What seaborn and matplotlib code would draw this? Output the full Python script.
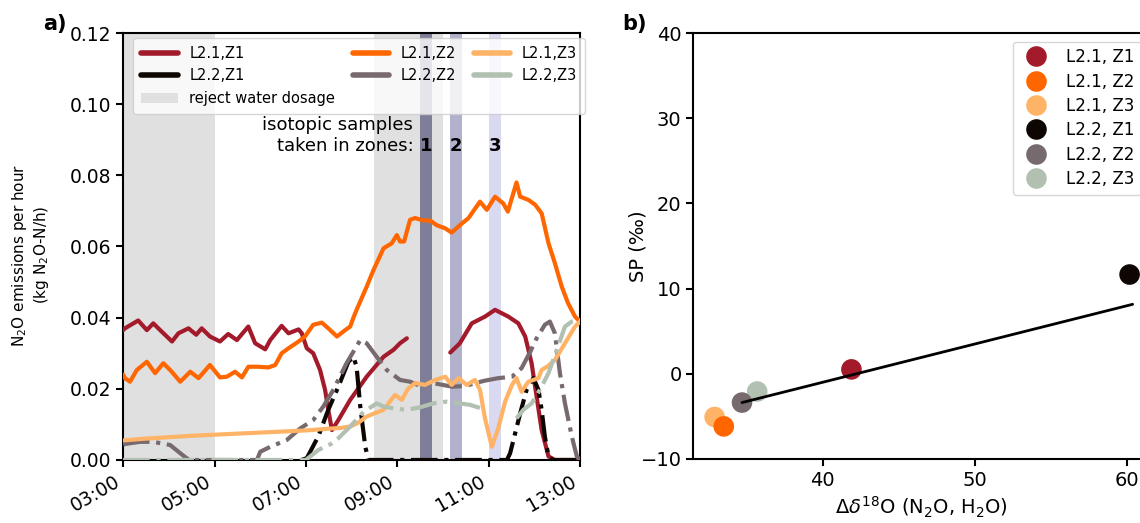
import numpy as np
import pandas as pd
import matplotlib
matplotlib.use("Agg")
import matplotlib.pyplot as plt
from matplotlib.lines import Line2D
from matplotlib.patches import Patch
from matplotlib.ticker import FuncFormatter
import seaborn as sns

sns.set_style("ticks")
plt.rcParams["font.family"] = ["DejaVu Sans"]
plt.rcParams["mathtext.fontset"] = "dejavusans"
plt.rcParams.update({"text.color": "black", "axes.labelcolor": "black",
                     "xtick.color": "black", "ytick.color": "black",
                     "axes.edgecolor": "black"})

# ---------------- data: panel a (time in hours, emissions in kg N2O-N/h) ----------------
L21_Z1_t = [3.0, 3.04, 3.33, 3.52, 3.66, 3.85, 4.07, 4.21, 4.43, 4.6, 4.72, 4.90, 5.12, 5.30, 5.49,
            5.74, 5.89, 6.11, 6.22, 6.47, 6.62, 6.84, 6.91, 7.02, 7.16, 7.31, 7.42, 7.49, 7.57, 7.71,
            7.97, 8.33, 8.70, 8.92, 9.06, 9.21, 9.6,
            10.16, 10.37, 10.63, 10.92, 11.14, 11.43, 11.65, 11.80, 11.94, 12.05, 12.16, 12.31, 12.45, 13.0]
L21_Z1_v = [0.0365, 0.037, 0.0392, 0.0365, 0.0384, 0.036, 0.0333, 0.0356, 0.037, 0.0352, 0.037, 0.0347, 0.0333, 0.0354, 0.0337,
            0.0375, 0.0328, 0.0311, 0.0337, 0.0377, 0.0356, 0.0367, 0.0356, 0.0314, 0.030, 0.0253, 0.0197, 0.0141, 0.0084, 0.0112,
            0.0169, 0.0234, 0.029, 0.031, 0.0328, 0.0342, np.nan,
            0.0302, 0.0328, 0.0384, 0.0403, 0.0422, 0.0403, 0.0384, 0.0347, 0.0272, 0.0178, 0.0084, 0.001, 0.0, 0.0]

L21_Z2_t = [3.0, 3.04, 3.15, 3.30, 3.52, 3.70, 3.88, 4.05, 4.25, 4.47, 4.65, 4.90, 5.12, 5.27, 5.45, 5.60, 5.74,
            5.96, 6.18, 6.33, 6.47, 6.62, 6.84, 6.98, 7.16, 7.35, 7.49, 7.68, 7.86, 7.97, 8.04, 8.11, 8.33,
            8.48, 8.70, 8.88, 8.99, 9.06, 9.15, 9.28, 9.39, 9.57, 9.72, 9.86, 10.05, 10.19, 10.37, 10.56,
            10.63, 10.81, 10.96, 11.14, 11.32, 11.42, 11.61, 11.69, 11.87, 12.02, 12.16, 12.31, 12.45,
            12.60, 12.74, 12.89, 13.0]
L21_Z2_v = [0.024, 0.023, 0.022, 0.0253, 0.0276, 0.0244, 0.0272, 0.025, 0.022, 0.0248, 0.023, 0.0267, 0.0232, 0.0234, 0.0248, 0.0232, 0.0262,
            0.0262, 0.026, 0.0267, 0.030, 0.0314, 0.0333, 0.0347, 0.038, 0.0386, 0.037, 0.0347, 0.0365, 0.0375, 0.040, 0.0422, 0.0487,
            0.0534, 0.0595, 0.0609, 0.0632, 0.0614, 0.0614, 0.0675, 0.068, 0.0673, 0.0673, 0.066, 0.0651, 0.0639, 0.066, 0.068,
            0.0693, 0.0726, 0.0703, 0.074, 0.0721, 0.0698, 0.078, 0.074, 0.0731, 0.0717, 0.0693, 0.0609, 0.0553,
            0.0487, 0.044, 0.0403, 0.0389]

L21_Z3_t = [3.0, 3.5, 4.0, 4.5, 5.0, 5.5, 6.0, 6.5, 7.0, 7.5, 7.75, 7.97, 8.15, 8.33, 8.5, 8.70, 8.95, 9.10,
            9.24, 9.39, 9.61, 9.83, 10.05, 10.19, 10.34, 10.52, 10.70, 10.81, 10.92, 11.07, 11.21, 11.36,
            11.51, 11.61, 11.72, 11.87, 12.09, 12.16, 12.31, 12.45, 12.67, 12.89, 13.0]
L21_Z3_v = [0.0055, 0.006, 0.0064, 0.0068, 0.0071, 0.0074, 0.0077, 0.008, 0.0083, 0.0088, 0.009, 0.0094, 0.0105, 0.0122, 0.0131, 0.0141, 0.0183, 0.0169,
            0.0201, 0.0216, 0.0211, 0.0225, 0.0234, 0.0211, 0.023, 0.0211, 0.0225, 0.0197, 0.0117, 0.0037, 0.0089, 0.0164,
            0.0211, 0.023, 0.0192, 0.022, 0.023, 0.0253, 0.0265, 0.0281, 0.0328, 0.0375, 0.0389]

L22_Z1_t = [6.9, 7.02, 7.27, 7.49, 7.71, 7.93, 8.04, 8.11, 8.19, 8.30, 8.37, 9.0, 10.0, 11.0, 11.40, 11.47,
            11.69, 11.83, 11.98, 12.09, 12.16, 12.23, 12.31, 12.40, 13.0]
L22_Z1_v = [0.0, 0.0005, 0.0066, 0.0141, 0.0206, 0.0276, 0.029, 0.0262, 0.015, 0.0037, 0.0, 0.0, 0.0, 0.0, 0.0, 0.0019,
            0.0131, 0.0197, 0.023, 0.0197, 0.0141, 0.0066, 0.001, 0.0, 0.0]

L22_Z2_t = [3.0, 3.04, 3.37, 3.66, 4.03, 4.25, 4.39, 4.47, 5.93, 6.0, 6.22, 6.58, 6.88, 7.16, 7.38, 7.60, 7.89,
            8.19, 8.33, 8.55, 8.77, 9.06, 9.28, 9.50, 9.79, 10.2, 10.5, 10.70, 10.92, 11.21, 11.51, 11.72,
            11.91, 12.05, 12.23, 12.34, 12.45, 12.56, 12.67, 12.82, 12.93, 13.0]
L22_Z2_v = [0.0043, 0.0045, 0.0051, 0.0051, 0.0042, 0.0019, 0.0005, 0.0, 0.0, 0.0023, 0.0037, 0.0056, 0.0089, 0.0112, 0.015, 0.0197, 0.0272,
            0.0337, 0.0328, 0.029, 0.0253, 0.0225, 0.022, 0.0208, 0.0216, 0.0206, 0.0208, 0.0216, 0.0223, 0.023, 0.0234, 0.0258,
            0.0304, 0.0342, 0.038, 0.0389, 0.0356, 0.0244, 0.0159, 0.0066, 0.001, 0.0]

L22_Z3_t = [3.0, 5.0, 7.0, 7.27, 7.55, 7.71, 7.97, 8.26, 8.55, 8.70, 8.92, 9.21, 9.50, 9.79, 10.08, 10.37, 10.59,
            10.84, 11.2, 11.61, 11.76, 11.94, 12.12, 12.31, 12.49, 12.67, 12.82, 12.96, 13.0]
L22_Z3_v = [0.0, 0.0, 0.0, 0.0028, 0.0045, 0.0061, 0.0094, 0.0135, 0.0159, 0.015, 0.0145, 0.0141, 0.0148, 0.0159, 0.0164, 0.0159, 0.0155,
            0.0145, np.nan, 0.0117, 0.0141, 0.0159, 0.0197, 0.0244, 0.0309, 0.0375, 0.0389, 0.0393, 0.0395]

reject_water = [(3.0, 5.0), (8.5, 10.0)]
iso_samples = [(9.50, 9.77), (10.15, 10.42), (11.00, 11.27)]
iso_labels = ["1", "2", "3"]

# ---------------- data: panel b ----------------
labels_b = ["L2.1, Z1", "L2.1, Z2", "L2.1, Z3", "L2.2, Z1", "L2.2, Z2", "L2.2, Z3"]
d18O = [41.9, 33.5, 32.9, 60.2, 34.7, 35.7]
SP = [0.5, -6.2, -5.1, 11.65, -3.4, -2.1]
fit_x = [34.7, 60.4]
fit_y = [-3.4, 8.15]

# ---------------- styles ----------------
C = {"L2.1,Z1": "#a31a2b", "L2.1,Z2": "#ff6600", "L2.1,Z3": "#ffb366",
     "L2.2,Z1": "#0d0603", "L2.2,Z2": "#776a6e", "L2.2,Z3": "#b2c0b2"}
band_cols = ["#7e7e98", "#b1b1cc", "#d9d9f2"]
gray_band = "#e0e0e0"

fig = plt.figure(figsize=(11.4, 5.23), dpi=100)
axA = fig.add_axes([0.108, 0.1205, 0.4008, 0.8164])
axB = fig.add_axes([0.6082, 0.1229, 0.4000, 0.8134])

# ---------- panel a ----------
for a, b in reject_water:
    axA.axvspan(a, b, color=gray_band, lw=0, zorder=0)
for (a, b), col in zip(iso_samples, band_cols):
    axA.axvspan(a, b, color=col, lw=0, zorder=1)


def frame(t, v):
    assert len(t) == len(v)
    df = pd.DataFrame({"t": t, "v": v})
    df["seg"] = df["v"].isna().cumsum()
    return df.dropna()


series = [("L2.1,Z1", L21_Z1_t, L21_Z1_v, "-"),
          ("L2.2,Z1", L22_Z1_t, L22_Z1_v, "-."),
          ("L2.1,Z2", L21_Z2_t, L21_Z2_v, "-"),
          ("L2.2,Z2", L22_Z2_t, L22_Z2_v, "-."),
          ("L2.1,Z3", L21_Z3_t, L21_Z3_v, "-"),
          ("L2.2,Z3", L22_Z3_t, L22_Z3_v, "-.")]
for name, t, v, ls in series:
    sns.lineplot(data=frame(t, v), x="t", y="v", units="seg", estimator=None,
                 color=C[name], linewidth=3, linestyle=ls, ax=axA, legend=False, zorder=3)

axA.set_xlim(3, 13)
axA.set_ylim(0, 0.12)
axA.set_xticks([3, 5, 7, 9, 11, 13])
axA.xaxis.set_major_formatter(FuncFormatter(lambda x, p: f"{int(round(x)):02d}:00"))
axA.set_yticks(np.arange(0, 0.121, 0.02))
axA.yaxis.set_major_formatter(FuncFormatter(lambda y, p: f"{y:.2f}"))
axA.tick_params(axis="both", labelsize=13.5, width=1.5, length=5)
plt.setp(axA.get_xticklabels(), rotation=30, ha="right")
axA.set_xlabel("")
axA.set_ylabel("N$_2$O emissions per hour\n(kg N$_2$O-N/h)", fontsize=11)
axA.yaxis.set_label_coords(-0.158, 0.48)

handles = [Line2D([], [], color=C["L2.1,Z1"], lw=4),
           Line2D([], [], color=C["L2.2,Z1"], lw=4),
           Patch(facecolor=gray_band, edgecolor="none"),
           Line2D([], [], color=C["L2.1,Z2"], lw=4),
           Line2D([], [], color=C["L2.2,Z2"], lw=4),
           Line2D([], [], color=C["L2.1,Z3"], lw=4),
           Line2D([], [], color=C["L2.2,Z3"], lw=4)]
labs = ["L2.1,Z1", "L2.2,Z1", "reject water dosage", "L2.1,Z2", "L2.2,Z2", "L2.1,Z3", "L2.2,Z3"]
axA.legend(handles, labs, ncol=3, loc="upper left", bbox_to_anchor=(0.022, 0.988, 0.989, 0),
           mode="expand", borderaxespad=0, fontsize=10.5, handlelength=2.5, borderpad=0.55)

axA.text(9.35, 0.0927, "isotopic samples", ha="right", va="baseline", fontsize=13, zorder=5)
axA.text(9.35, 0.0867, "taken in zones:", ha="right", va="baseline", fontsize=13, zorder=5)
for (a, b), lab in zip(iso_samples, iso_labels):
    axA.text((a + b) / 2, 0.0867, lab, ha="center", va="baseline", fontsize=13,
             fontweight="bold", zorder=5)

# ---------- panel b ----------
dfb = pd.DataFrame({"label": labels_b, "d18O": d18O, "SP": SP})
dfb = dfb.iloc[::-1]  # drawing order
pal = {lab: C[lab.replace(" ", "")] for lab in labels_b}
sns.scatterplot(data=dfb, x="d18O", y="SP", hue="label", hue_order=labels_b, palette=pal,
                s=220, linewidth=0, ax=axB, zorder=2)
sns.lineplot(x=fit_x, y=fit_y, color="black", linewidth=2, ax=axB, zorder=3, legend=False)
sns.move_legend(axB, "upper right", title=None, fontsize=12, frameon=True, labelspacing=0.38)

axB.set_xlim(31.5, 61.5)
axB.set_ylim(-10, 40)
axB.set_xticks([40, 50, 60])
axB.set_yticks([-10, 0, 10, 20, 30, 40])
axB.tick_params(axis="both", labelsize=14, width=1.5, length=5)
axB.set_xlabel(r"$\Delta\delta^{18}$O (N$_2$O, H$_2$O)", fontsize=14)
axB.set_ylabel("SP (‰)", fontsize=14)
axB.yaxis.set_label_coords(-0.10, 0.5)

for ax in (axA, axB):
    for s in ax.spines.values():
        s.set_linewidth(1.5)
        s.set_color("black")
        s.set_visible(True)

fig.text(0.0377, 0.9426, "a)", fontsize=15, fontweight="bold", va="baseline")
fig.text(0.5456, 0.9426, "b)", fontsize=15, fontweight="bold", va="baseline")

fig.savefig("out.png", dpi=100)
